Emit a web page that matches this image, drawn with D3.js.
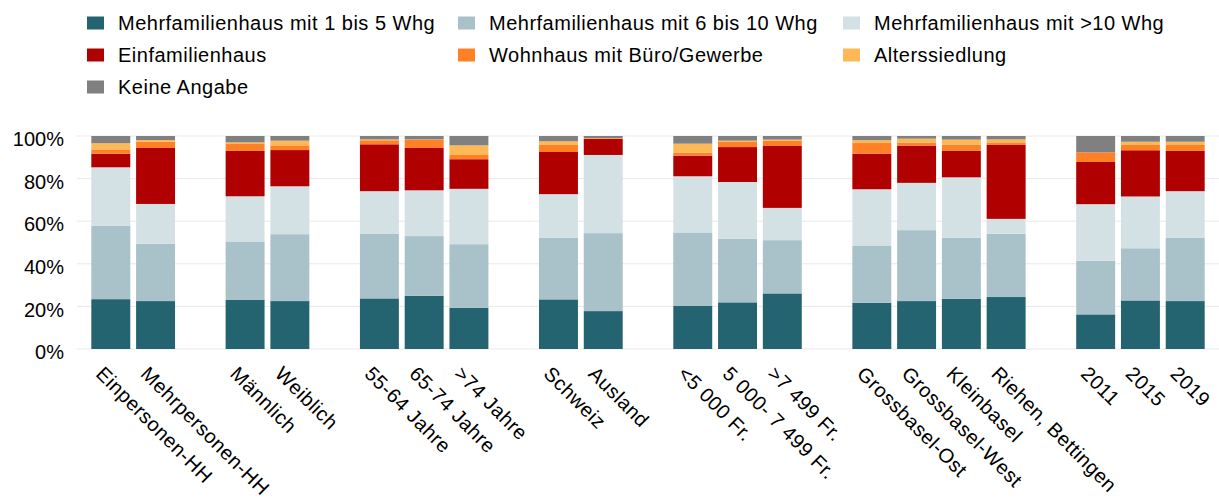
<!DOCTYPE html>
<html>
<head>
<meta charset="utf-8">
<script src="https://cdn.jsdelivr.net/npm/d3@7"></script>
<style>
  body { margin: 0; background: #fff; }
  #chart { width: 1219px; height: 502px; }
  text { font-family: Arial, "Liberation Sans", sans-serif; fill: #000; }
</style>
</head>
<body>
<div id="chart"></div>
<script>
const width  = 1219;
const height = 502;

// Bar labels; null marks an empty slot between groups.
const categories = [
  "Einpersonen-HH", "Mehrpersonen-HH", null,
  "Männlich", "Weiblich", null,
  "55-64 Jahre", "65-74 Jahre", ">74 Jahre", null,
  "Schweiz", "Ausland", null,
  "<5 000 Fr.", "5 000- 7 499 Fr.", ">7 499 Fr.", null,
  "Grossbasel-Ost", "Grossbasel-West", "Kleinbasel", "Riehen, Bettingen", null,
  "2011", "2015", "2019"
];

const seriesNames = [
  "Mehrfamilienhaus mit 1 bis 5 Whg",
  "Mehrfamilienhaus mit 6 bis 10 Whg",
  "Mehrfamilienhaus mit >10 Whg",
  "Einfamilienhaus",
  "Wohnhaus mit Büro/Gewerbe",
  "Alterssiedlung",
  "Keine Angabe"
];

const seriesColours = ["#246470", "#a9c1c8", "#d3e1e5", "#b10000", "#ff8025", "#ffb856", "#808080"];

// Shares in percent, one value per (non-empty) bar, left to right.
const mfh1to5  = [23.4, 22.5, 23.0, 22.5, 23.75, 25.0, 19.4, 23.3, 17.8, 20.2, 21.9, 26.1, 21.7, 22.5, 23.6, 24.4, 16.25, 22.8, 22.5];
const mfh6to10 = [34.4, 26.9, 27.5, 31.4, 30.45, 28.0, 29.8, 28.9, 36.6, 34.5, 29.8, 25.0, 26.9, 33.3, 28.6, 29.7, 25.15, 24.5, 29.8];
const mfhOver10 = [27.5, 18.7, 21.2, 22.5, 19.9, 21.5, 26.0, 20.5, 36.7, 26.4, 26.7, 15.15, 26.4, 22.2, 28.4, 7.0, 26.6, 24.3, 21.8];
const efh      = [6.4, 26.3, 21.3, 17.0, 22.0, 19.9, 13.9, 19.8, 7.5, 9.7, 16.4, 29.05, 16.7, 17.5, 12.4, 34.7, 19.8, 21.7, 18.9];
const buero    = [2.0, 2.9, 3.25, 2.2, 1.9, 3.9, 2.0, 3.3, 0.3, 1.4, 2.4, 2.4, 5.0, 1.4, 2.9, 1.2, 4.5, 2.5, 2.8];
const alters   = [2.9, 0.8, 0.75, 2.2, 0.4, 0.1, 4.5, 1.7, 0.1, 4.2, 0.6, 0.6, 1.3, 1.85, 2.4, 1.4, 0, 1.5, 1.5];
const keine    = [3.4, 1.9, 3.0, 2.2, 1.6, 1.6, 4.4, 2.5, 1.0, 3.6, 2.2, 1.7, 2.0, 1.25, 1.7, 1.6, 7.7, 2.7, 2.7];

const yTicks = [0, 0.2, 0.4, 0.6, 0.8, 1];

const seriesValues = [mfh1to5, mfh6to10, mfhOver10, efh, buero, alters, keine];

// Build one row per bar, keeping the slot index for the band scale.
const rows = [];
categories.forEach((name, slot) => {
  if (name === null) return;
  const i = rows.length;
  const row = { slot: slot, name: name };
  seriesNames.forEach((s, k) => row[s] = seriesValues[k][i]);
  rows.push(row);
});

const svg = d3.select("#chart").append("svg")
    .attr("width", width)
    .attr("height", height);

const x = d3.scaleBand()
    .domain(d3.range(categories.length))
    .range([77, 1219])
    .paddingInner(0.13)
    .paddingOuter(0.32);

const y = d3.scaleLinear()
    .domain([0, 1])
    .range([349, 136]);

const colour = d3.scaleOrdinal()
    .domain(seriesNames)
    .range(seriesColours);

// Gridlines
svg.append("g")
  .selectAll("line")
  .data(yTicks).enter()
    .append("line")
      .attr("x1", 77)
      .attr("x2", width)
      .attr("y1", d => y(d))
      .attr("y2", d => y(d))
      .attr("stroke", "#e9e9e9")
      .attr("stroke-width", 1);

// Y axis labels
const yAxis = svg.append("g")
    .attr("transform", "translate(64,0)")
    .call(d3.axisLeft(y).tickValues(yTicks).tickFormat(d3.format(".0%")).tickSize(0).tickPadding(0));
yAxis.select(".domain").remove();
yAxis.selectAll("text")
    .attr("font-size", "20px")
    .attr("font-family", "Arial, 'Liberation Sans', sans-serif")
    .attr("fill", "#000")
    .attr("dy", "0.48em");

// Stacked, normalised bars
const stack = d3.stack()
    .keys(seriesNames)
    .offset(d3.stackOffsetExpand);

const layers = stack(rows);

svg.append("g")
  .selectAll("g")
  .data(layers).enter()
    .append("g")
      .attr("fill", d => colour(d.key))
    .selectAll("rect")
    .data(d => d).enter()
      .append("rect")
        .attr("x", d => x(d.data.slot))
        .attr("width", x.bandwidth())
        .attr("y", d => y(d[1]))
        .attr("height", d => y(d[0]) - y(d[1]));

// Rotated category labels
svg.append("g")
  .selectAll("text")
  .data(rows).enter()
    .append("text")
      .attr("transform", d => "translate(" + (x(d.slot) + x.bandwidth() / 2 - 16) + ",375) rotate(45)")
      .attr("font-size", "20px")
      .attr("letter-spacing", "0.5px")
      .text(d => d.name);

// Legend, three columns
const legendCols = [87, 458, 843];
const legend = svg.append("g")
  .selectAll("g")
  .data(seriesNames).enter()
    .append("g")
      .attr("transform", (d, i) => "translate(" + legendCols[i % 3] + "," + (23 + Math.floor(i / 3) * 32) + ")");

legend.append("rect")
    .attr("x", 0)
    .attr("y", -6.5)
    .attr("width", 17)
    .attr("height", 13)
    .attr("fill", d => colour(d));

legend.append("text")
    .attr("x", 31)
    .attr("y", 7)
    .attr("font-size", "20px")
    .attr("letter-spacing", "0.5px")
    .text(d => d);
</script>
</body>
</html>
